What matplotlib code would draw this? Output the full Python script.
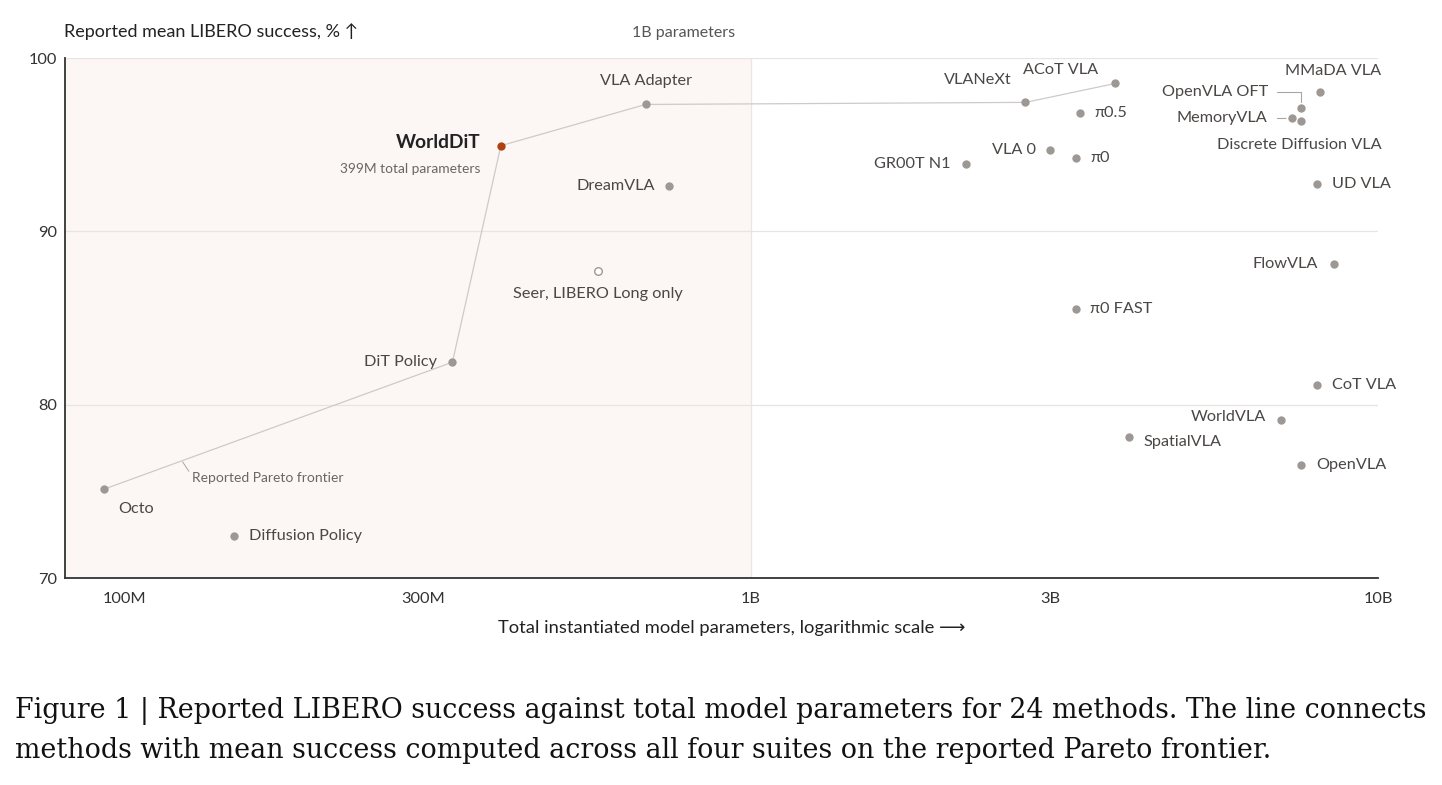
import numpy as np
import matplotlib.pyplot as plt

# data
methods = ["Octo", "Diffusion Policy", "DiT Policy", "WorldDiT", "VLA Adapter", "DreamVLA",
           "Seer, LIBERO Long only", "GR00T N1", "VLA 0", "π0", "π0.5", "VLANeXt", "ACoT VLA",
           "π0 FAST", "SpatialVLA", "WorldVLA", "OpenVLA", "CoT VLA", "FlowVLA", "UD VLA",
           "MMaDA VLA", "OpenVLA OFT", "MemoryVLA", "Discrete Diffusion VLA"]
params = [93e6, 150e6, 334e6, 399e6, 679e6, 740e6, 570e6, 2.2e9, 3.0e9, 3.3e9, 3.35e9, 2.74e9,
          3.81e9, 3.3e9, 4.0e9, 7.0e9, 7.55e9, 8.0e9, 8.5e9, 8.0e9, 8.09e9, 7.54e9, 7.28e9, 7.55e9]
success = [75.13, 72.44, 82.45, 94.94, 97.32, 92.63, 87.74, 93.91, 94.72, 94.24, 96.82, 97.44,
           98.53, 85.53, 78.12, 79.13, 76.52, 81.14, 88.12, 92.74, 98.04, 97.13, 96.51, 96.34]
frontier = ["Octo", "DiT Policy", "WorldDiT", "VLA Adapter", "VLANeXt", "ACoT VLA"]
partial_suite = ["Seer, LIBERO Long only"]
ours = "WorldDiT"

x_ticks = [1e8, 3e8, 1e9, 3e9, 1e10]
x_tick_labels = ["100M", "300M", "1B", "3B", "10B"]
y_ticks = [70, 80, 90, 100]

# label placement: (dx, dy) in pixels, horizontal alignment
label_pos = {
    "Octo": (14, -20, "left"), "Diffusion Policy": (15, 0, "left"), "DiT Policy": (-15, 0, "right"),
    "VLA Adapter": (0, 23, "center"), "DreamVLA": (-14, 0, "right"),
    "Seer, LIBERO Long only": (0, -23, "center"), "GR00T N1": (-15, 0, "right"),
    "VLA 0": (-14, 0, "right"), "π0": (14, 0, "left"), "π0.5": (14, 0, "left"),
    "VLANeXt": (-14, 22, "right"), "ACoT VLA": (-17, 13, "right"), "π0 FAST": (14, 0, "left"),
    "SpatialVLA": (15, -5, "left"), "WorldVLA": (-15, 3, "right"), "OpenVLA": (15, 0, "left"),
    "CoT VLA": (15, 0, "left"), "FlowVLA": (-16, 0, "right"), "UD VLA": (15, 0, "left"),
    "MMaDA VLA": (61, 21, "right"), "OpenVLA OFT": (-33, 16, "right"),
    "MemoryVLA": (-24, 0, "right"), "Discrete Diffusion VLA": (80, -24, "right"),
}

SANS = ["Lato", "DejaVu Sans"]
plt.rcParams["font.family"] = SANS

dot_c = "#9d9894"
text_c = "#4a4745"
line_c = "#cfcac7"

fig = plt.figure(figsize=(14.42, 7.85), dpi=100)
ax = fig.add_axes([65 / 1442, 1 - 578 / 785, (1378 - 65) / 1442, (578 - 58) / 785])
ax.set_xscale("log")
ax.set_xlim(8.05e7, 1e10)
ax.set_ylim(70, 100)

# region below 1B parameters
ax.axvspan(8.05e7, 1e9, color="#fcf7f5", zorder=0, lw=0)
ax.axvline(1e9, color="#ebe6e4", lw=0.9, zorder=1)
for yv in y_ticks[1:]:
    ax.axhline(yv, color="#e8e4e2", lw=0.9, zorder=1)

# frontier line
fx = [params[methods.index(m)] for m in frontier]
fy = [success[methods.index(m)] for m in frontier]
ax.plot(fx, fy, color=line_c, lw=0.9, zorder=2)

for m, p, s in zip(methods, params, success):
    if m == ours:
        ax.scatter([p], [s], s=36, color="#b0410f", zorder=4, lw=0)
    elif m in partial_suite:
        ax.scatter([p], [s], s=30, facecolor="white", edgecolor=dot_c, lw=1.0, zorder=3)
    else:
        ax.scatter([p], [s], s=36, color=dot_c, zorder=3, lw=0)
    if m in label_pos:
        dx, dy, ha = label_pos[m]
        ax.annotate(m, (p, s), xytext=(dx, dy), textcoords="offset pixels", ha=ha, va="center",
                    fontsize=11.7, color=text_c, family=SANS)

# highlighted method
i = methods.index(ours)
ax.annotate(ours, (params[i], success[i]), xytext=(-20, 3), textcoords="offset pixels",
            ha="right", va="center", fontsize=13.8, fontweight="bold", color="#222222")
ax.annotate("399M total parameters", (params[i], success[i]), xytext=(-20, -23),
            textcoords="offset pixels", ha="right", va="center", fontsize=9.9, color="#6a6664")

# leader lines for crowded labels
j = methods.index("OpenVLA OFT")
ax.annotate("", (params[j], success[j]), xytext=(-27, 16), textcoords="offset pixels",
            arrowprops=dict(arrowstyle="-", color="#aaa5a2", lw=0.8,
                            connectionstyle="angle,angleA=0,angleB=90,rad=0", shrinkB=4))
k = methods.index("MemoryVLA")
ax.annotate("", (params[k], success[k]), xytext=(-17, 0), textcoords="offset pixels",
            arrowprops=dict(arrowstyle="-", color="#aaa5a2", lw=0.8, shrinkB=4))

# frontier label
ax.annotate("Reported Pareto frontier", (1.24e8, 76.7), xytext=(9, -16), textcoords="offset pixels",
            ha="left", va="center", fontsize=10, color="#6a6664",
            arrowprops=dict(arrowstyle="-", color="#aaa5a2", lw=0.7, shrinkA=0, shrinkB=0,
                            relpos=(0, 0.7)))

ax.set_xticks(x_ticks)
ax.set_xticklabels(x_tick_labels)
ax.xaxis.set_minor_locator(plt.NullLocator())
ax.set_yticks(y_ticks)
ax.tick_params(length=0, labelsize=11.8, colors="#333333", pad=10)
ax.tick_params(axis="y", pad=6)

for sp in ["top", "right"]:
    ax.spines[sp].set_visible(False)
for sp in ["left", "bottom"]:
    ax.spines[sp].set_color("#333333")
    ax.spines[sp].set_linewidth(1.3)

fig.text(64 / 1442, 1 - 32 / 785, "Reported mean LIBERO success, % ↑", ha="left", va="center",
         fontsize=13, color="#222222")
fig.text(735 / 1442, 1 - 33 / 785, "1B parameters", ha="right", va="center",
         fontsize=11.5, color="#555555")
fig.text(732 / 1442, 1 - 628 / 785, "Total instantiated model parameters, logarithmic scale ⟶",
         ha="center", va="center", fontsize=13.2, color="#222222")

cap_font = dict(family="DejaVu Serif", fontsize=19.4, color="#111111")
fig.text(15 / 1442, 1 - 711 / 785,
         "Figure 1 | Reported LIBERO success against total model parameters for 24 methods. The line connects",
         ha="left", va="center", **cap_font)
fig.text(15 / 1442, 1 - 751 / 785,
         "methods with mean success computed across all four suites on the reported Pareto frontier.",
         ha="left", va="center", **cap_font)

fig.savefig("out.png", dpi=100, facecolor="white")
